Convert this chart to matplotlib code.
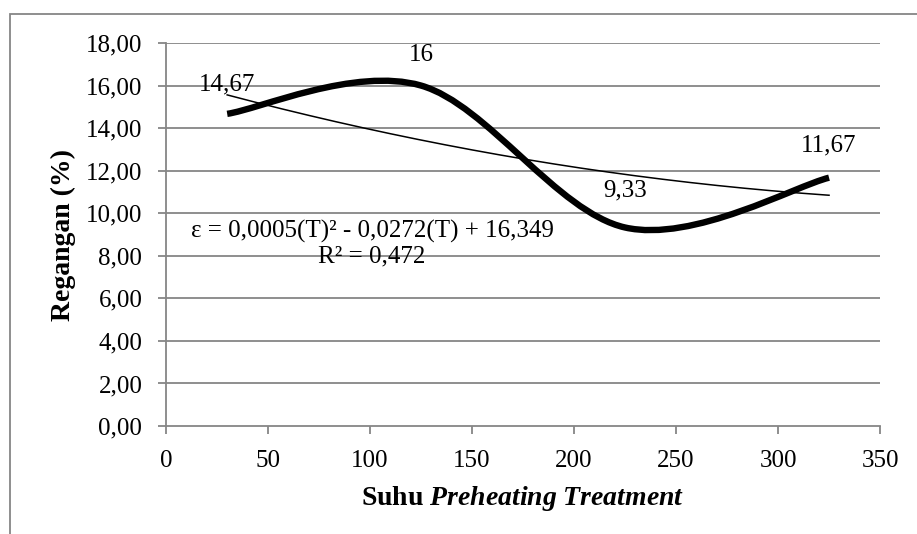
import numpy as np
import matplotlib
matplotlib.use("Agg")
from matplotlib import pyplot as plt
from matplotlib.path import Path
from matplotlib.patches import PathPatch, Rectangle

# data
suhu = [30, 125, 225, 325]
regangan = [14.67, 16.00, 9.33, 11.67]
labels = ["14,67", "16", "9,33", "11,67"]
label_offsets = [(0, 21), (0, 22), (0, 26.5), (0, 23)]

x_ticks = [0, 50, 100, 150, 200, 250, 300, 350]
y_ticks = [0, 2, 4, 6, 8, 10, 12, 14, 16, 18]

equation = "ε = 0,0005(T)² - 0,0272(T) + 16,349"
r_squared = "R² = 0,472"

GRAY = "#868686"
plt.rcParams['font.family'] = ['Liberation Serif', 'DejaVu Serif']
plt.rcParams['mathtext.fontset'] = 'custom'
plt.rcParams['mathtext.rm'] = 'Liberation Serif'
plt.rcParams['mathtext.it'] = 'Liberation Serif:italic'
plt.rcParams['mathtext.bf'] = 'Liberation Serif:bold'
plt.rcParams['mathtext.bfit'] = 'Liberation Serif:italic:bold'
FS = 18
TITLE_FS = 20


def excel_smooth_path(xs, ys):
    # bezier segments like Excel's "smoothed line"
    pts = np.column_stack([xs, ys]).astype(float)
    n = len(pts)
    verts = [pts[0]]
    codes = [Path.MOVETO]
    for i in range(n - 1):
        p_prev = pts[max(i - 1, 0)]
        p0 = pts[i]
        p1 = pts[i + 1]
        p_next = pts[min(i + 2, n - 1)]
        c1 = p0 + (p1 - p_prev) / 6.0
        c2 = p1 - (p_next - p0) / 6.0
        verts += [c1, c2, p1]
        codes += [Path.CURVE4] * 3
    return Path(verts, codes)


fig = plt.figure(figsize=(9.17, 5.34), dpi=100)
ax = fig.add_axes([0.181, 0.2022, 0.7787, 0.7173])

# outer chart border
fig.patches.append(Rectangle((10 / 917, -0.2), 1.2, 1.2 - 14 / 534,
                             transform=fig.transFigure, fill=False,
                             edgecolor=GRAY, linewidth=1.3))

ax.set_xlim(0, 350)
ax.set_ylim(0, 18)

for yv in y_ticks[1:]:
    ax.axhline(yv, color=GRAY, linewidth=1.3, zorder=1)

# polynomial trendline (order 2) like Excel
coef = np.polyfit(suhu, regangan, 2)
tx = np.linspace(min(suhu), max(suhu), 200)
ax.plot(tx, np.polyval(coef, tx), color="black", linewidth=1.1, zorder=3)

# smoothed data line
ax.add_patch(PathPatch(excel_smooth_path(suhu, regangan), fill=False,
                       edgecolor="black", linewidth=4.6, capstyle="butt",
                       zorder=4))

for xv, yv, lab, off in zip(suhu, regangan, labels, label_offsets):
    ax.annotate(lab, (xv, yv), xytext=off, textcoords="offset points",
                ha="center", va="center", fontsize=FS, zorder=5)

ax.text(101, 9.13, equation, ha="center", va="center", fontsize=FS, zorder=5)
ax.text(101, 7.96, r_squared, ha="center", va="center", fontsize=FS, zorder=5)

ax.set_xticks(x_ticks)
ax.set_xticklabels([str(v) for v in x_ticks])
ax.set_yticks(y_ticks)
ax.set_yticklabels([("%.2f" % v).replace(".", ",") for v in y_ticks])
ax.tick_params(axis="both", direction="out", length=6, width=1.3,
               color=GRAY, labelsize=FS)
ax.tick_params(axis="x", pad=11)
ax.tick_params(axis="y", pad=11)

for side in ["top", "right"]:
    ax.spines[side].set_visible(False)
for side in ["left", "bottom"]:
    ax.spines[side].set_color(GRAY)
    ax.spines[side].set_linewidth(1.3)

ax.set_ylabel("Regangan (%)", fontsize=TITLE_FS, fontweight="bold", va="center")
ax.yaxis.set_label_coords(-0.144, 0.5)
ax.set_xlabel(r"Suhu $\mathbfit{Preheating\ Treatment}$", fontsize=TITLE_FS,
              fontweight="bold", va="center")
ax.xaxis.set_label_coords(0.5, -0.19)

fig.savefig("out.png", dpi=100)
